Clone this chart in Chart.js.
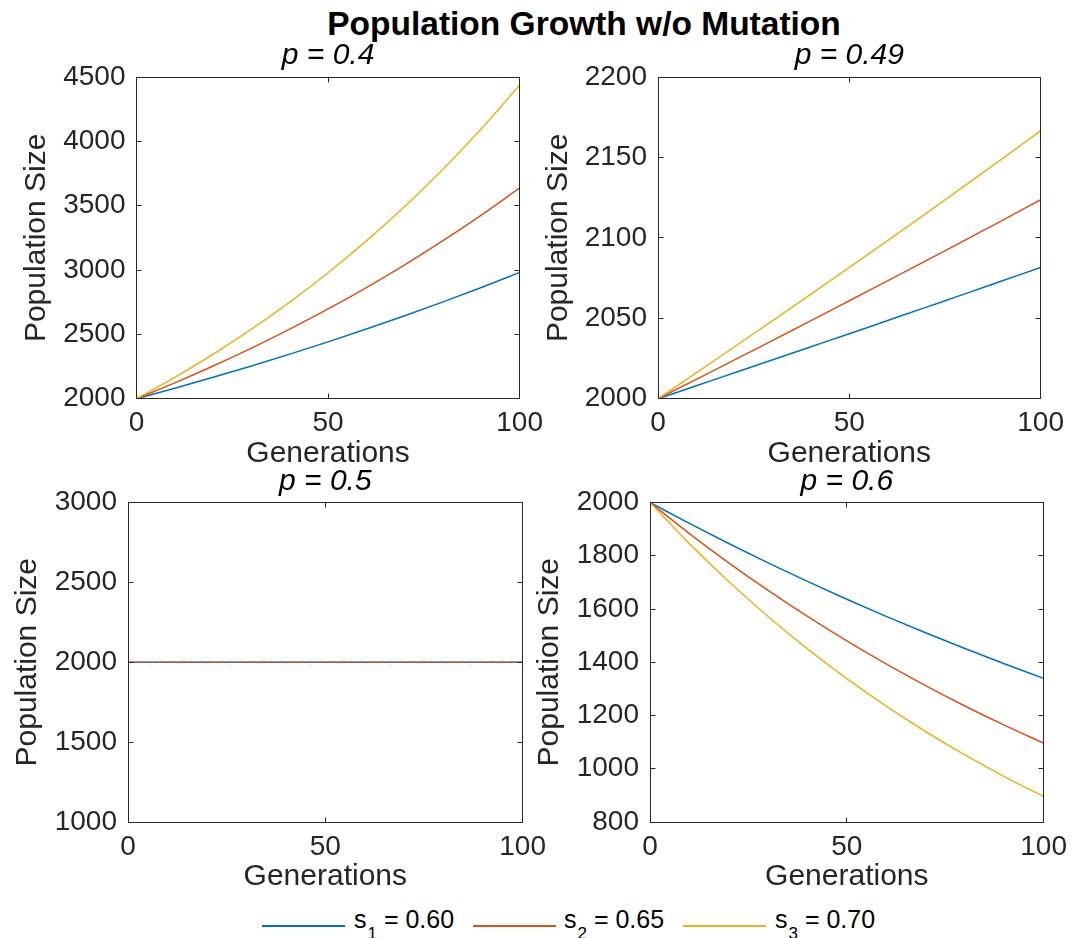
<!DOCTYPE html>
<html>
<head>
<meta charset="utf-8">
<title>Population Growth w/o Mutation</title>
<script src="https://cdn.jsdelivr.net/npm/chart.js@4.4.1/dist/chart.umd.min.js"></script>
<style>
  html, body { margin: 0; padding: 0; background: #fff; }
  #fig { position: relative; width: 1083px; height: 938px; overflow: hidden; background: #fff;
         font-family: "Liberation Sans", Arial, Helvetica, sans-serif; }
  #fig canvas { position: absolute; }
  .suptitle { position: absolute; top: 7px; left: 584px; transform: translateX(-50%);
              font-size: 33.5px; font-weight: bold; line-height: 33.5px; color: #000; white-space: nowrap; }
  .leg-line { position: absolute; height: 1.6px; top: 925px; width: 83px; }
  .leg-text { position: absolute; top: 907px; font-size: 25px; line-height: 25px; color: #000; white-space: nowrap; }
  .leg-text .sub { font-size: 17px; position: relative; top: 11px; margin-left: 1px; }
</style>
</head>
<body>
<div id="fig">
  <div class="suptitle">Population Growth w/o Mutation</div>
</div>
<script>
// Generations sampled every 10 steps
const generations = [0, 10, 20, 30, 40, 50, 60, 70, 80, 90, 100];

// p = 0.4
const p040_s060 = [2000, 2081.4, 2166.2, 2254.4, 2346.2, 2441.8, 2541.2, 2644.8, 2752.6, 2864.6, 2981.3];
const p040_s065 = [2000, 2123.3, 2254.2, 2393.2, 2540.7, 2697.4, 2863.7, 3040.3, 3227.7, 3426.7, 3638.0];
const p040_s070 = [2000, 2165.9, 2345.5, 2540.1, 2750.8, 2979.0, 3226.1, 3493.7, 3783.5, 4097.3, 4437.2];
// p = 0.49
const p049_s060 = [2000, 2008.0, 2016.1, 2024.2, 2032.3, 2040.4, 2048.6, 2056.8, 2065.0, 2073.3, 2081.6];
const p049_s065 = [2000, 2012.0, 2024.1, 2036.3, 2048.5, 2060.9, 2073.3, 2085.7, 2098.3, 2110.9, 2123.7];
const p049_s070 = [2000, 2016.1, 2032.3, 2048.6, 2065.0, 2081.6, 2098.3, 2115.1, 2132.1, 2149.2, 2166.6];
// p = 0.5
const p050_s060 = [2000, 2000, 2000, 2000, 2000, 2000, 2000, 2000, 2000, 2000, 2000];
const p050_s065 = [2000, 2000, 2000, 2000, 2000, 2000, 2000, 2000, 2000, 2000, 2000];
const p050_s070 = [2000, 2000, 2000, 2000, 2000, 2000, 2000, 2000, 2000, 2000, 2000];
// p = 0.6
const p060_s060 = [2000, 1921.4, 1845.9, 1773.4, 1703.7, 1636.8, 1572.5, 1510.7, 1451.4, 1394.4, 1339.6];
const p060_s065 = [2000, 1883.2, 1773.2, 1669.6, 1572.1, 1480.3, 1393.9, 1312.4, 1235.8, 1163.6, 1095.6];
const p060_s070 = [2000, 1845.6, 1703.2, 1571.8, 1450.5, 1338.5, 1235.2, 1139.9, 1051.9, 970.7, 895.8];

// Tick labels
const xTicks = [0, 50, 100];
const yTicksP040 = [2000, 2500, 3000, 3500, 4000, 4500];
const yTicksP049 = [2000, 2050, 2100, 2150, 2200];
const yTicksP050 = [1000, 1500, 2000, 2500, 3000];
const yTicksP060 = [800, 1000, 1200, 1400, 1600, 1800, 2000];

// Series labels and subplot labels
const sValues = ['0.60', '0.65', '0.70'];
const pValues = ['0.4', '0.49', '0.5', '0.6'];
const seriesColors = ['#0072BD', '#D95319', '#EDB120'];

const FONT = '"Liberation Sans", Arial, Helvetica, sans-serif';
const AXIS_GRAY = '#262626';

// Closed box with inward ticks on all four sides
const boxPlugin = {
  id: 'boxAxes',
  afterDatasetsDraw(chart) {
    const { ctx, chartArea: a, scales: { x, y } } = chart;
    const snap = v => Math.floor(v) + 0.5;
    const L = snap(a.left), R = snap(a.right), T = snap(a.top), B = snap(a.bottom);
    const len = 5;
    ctx.save();
    ctx.strokeStyle = AXIS_GRAY;
    ctx.lineWidth = 1;
    ctx.beginPath();
    ctx.rect(L, T, R - L, B - T);
    for (const t of x.ticks) {
      const px = snap(x.getPixelForValue(t.value));
      ctx.moveTo(px, B); ctx.lineTo(px, B - len);
      ctx.moveTo(px, T); ctx.lineTo(px, T + len);
    }
    for (const t of y.ticks) {
      const py = snap(y.getPixelForValue(t.value));
      ctx.moveTo(L, py); ctx.lineTo(L + len, py);
      ctx.moveTo(R, py); ctx.lineTo(R - len, py);
    }
    ctx.stroke();
    ctx.restore();
  }
};

// Subplot title centred over the plot area
const panelTitlePlugin = {
  id: 'panelTitle',
  afterDraw(chart, args, opts) {
    const { ctx, chartArea: a } = chart;
    ctx.save();
    ctx.font = 'italic 30px ' + FONT;
    ctx.fillStyle = '#000';
    ctx.textAlign = 'center';
    ctx.textBaseline = 'alphabetic';
    ctx.fillText(opts.text, (a.left + a.right) / 2, a.top - 13);
    ctx.restore();
  }
};

function makePanel(opts) {
  const { plotLeft, plotTop, plotRight, plotBottom, canvasLeft, canvasTop,
          series, yTicks, pLabel, dashed } = opts;
  const L = plotLeft - canvasLeft;          // room for y ticks and y title
  const T = plotTop - canvasTop;            // room for the subplot title
  const B = 73;                             // room for x ticks and x title
  const Rpad = 30;
  const width = Math.round(L + (plotRight - plotLeft) + Rpad);
  const height = Math.round(T + (plotBottom - plotTop) + B);
  const bottomFit = height - T - (plotBottom - plotTop);

  const canvas = document.createElement('canvas');
  canvas.width = width; canvas.height = height;
  canvas.style.left = canvasLeft + 'px';
  canvas.style.top = canvasTop + 'px';
  canvas.style.width = width + 'px';
  canvas.style.height = height + 'px';
  document.getElementById('fig').appendChild(canvas);

  const datasets = series.map((vals, i) => {
    const ds = {
      label: 's' + (i + 1) + ' = ' + sValues[i],
      data: generations.map((g, k) => ({ x: g, y: vals[k] })),
      borderColor: seriesColors[i],
      borderWidth: 1.5,
      pointRadius: 0,
      fill: false,
      cubicInterpolationMode: 'monotone',
      order: 2 - i
    };
    if (dashed) {
      // identical lines drawn on top of each other
      if (i === 1) { ds.borderDash = [7, 3]; ds.order = 0; }
      if (i === 2) { ds.borderDash = [2, 8]; ds.borderDashOffset = 9; ds.order = 1; }
    }
    return ds;
  });

  new Chart(canvas, {
    type: 'line',
    data: { datasets },
    plugins: [boxPlugin, panelTitlePlugin],
    options: {
      responsive: false,
      animation: false,
      devicePixelRatio: 1,
      layout: { padding: { left: 0, top: T, right: Rpad, bottom: 0 } },
      plugins: {
        legend: { display: false },
        tooltip: { enabled: false },
        title: { display: false },
        panelTitle: { text: 'p = ' + pLabel }
      },
      scales: {
        x: {
          type: 'linear',
          min: 0, max: 100,
          grid: { display: false, drawTicks: false },
          border: { display: false },
          afterBuildTicks: s => { s.ticks = xTicks.map(v => ({ value: v })); },
          afterFit: s => { s.height = bottomFit; },
          ticks: {
            color: AXIS_GRAY, padding: 8, maxRotation: 0,
            font: { family: FONT, size: 28 },
            callback: v => String(v)
          },
          title: {
            display: true, text: 'Generations', color: AXIS_GRAY,
            font: { family: FONT, size: 30, lineHeight: 1.2 },
            padding: { top: 0, bottom: 0 }
          }
        },
        y: {
          type: 'linear',
          min: yTicks[0], max: yTicks[yTicks.length - 1],
          grid: { display: false, drawTicks: false },
          border: { display: false },
          afterBuildTicks: s => { s.ticks = yTicks.map(v => ({ value: v })); },
          afterFit: s => { s.width = L; },
          ticks: {
            color: AXIS_GRAY, padding: 11,
            font: { family: FONT, size: 28 },
            callback: v => String(v)
          },
          title: {
            display: true, text: 'Population Size', color: AXIS_GRAY,
            font: { family: FONT, size: 30, lineHeight: 1.2 },
            padding: { top: 0, bottom: 0 }
          }
        }
      }
    }
  });
}

makePanel({ plotLeft: 136.5, plotTop: 77, plotRight: 521, plotBottom: 398.7, canvasLeft: 19, canvasTop: 35,
            series: [p040_s060, p040_s065, p040_s070], yTicks: yTicksP040, pLabel: pValues[0] });
makePanel({ plotLeft: 658, plotTop: 77, plotRight: 1042, plotBottom: 398.7, canvasLeft: 541, canvasTop: 35,
            series: [p049_s060, p049_s065, p049_s070], yTicks: yTicksP049, pLabel: pValues[1] });
makePanel({ plotLeft: 128, plotTop: 502.5, plotRight: 524, plotBottom: 822, canvasLeft: 10, canvasTop: 461,
            series: [p050_s060, p050_s065, p050_s070], yTicks: yTicksP050, pLabel: pValues[2], dashed: true });
makePanel({ plotLeft: 650, plotTop: 502.5, plotRight: 1045, plotBottom: 822, canvasLeft: 532, canvasTop: 461,
            series: [p060_s060, p060_s065, p060_s070], yTicks: yTicksP060, pLabel: pValues[3] });

// Legend below the panels
(function buildLegend() {
  const fig = document.getElementById('fig');
  const lineX = [262, 473, 683];
  const textX = [354, 564, 775];
  sValues.forEach((sv, i) => {
    const ln = document.createElement('div');
    ln.className = 'leg-line';
    ln.style.left = lineX[i] + 'px';
    ln.style.background = seriesColors[i];
    fig.appendChild(ln);
    const tx = document.createElement('div');
    tx.className = 'leg-text';
    tx.style.left = textX[i] + 'px';
    tx.innerHTML = 's<span class="sub">' + (i + 1) + '</span> = ' + sv;
    fig.appendChild(tx);
  });
})();
</script>
</body>
</html>
